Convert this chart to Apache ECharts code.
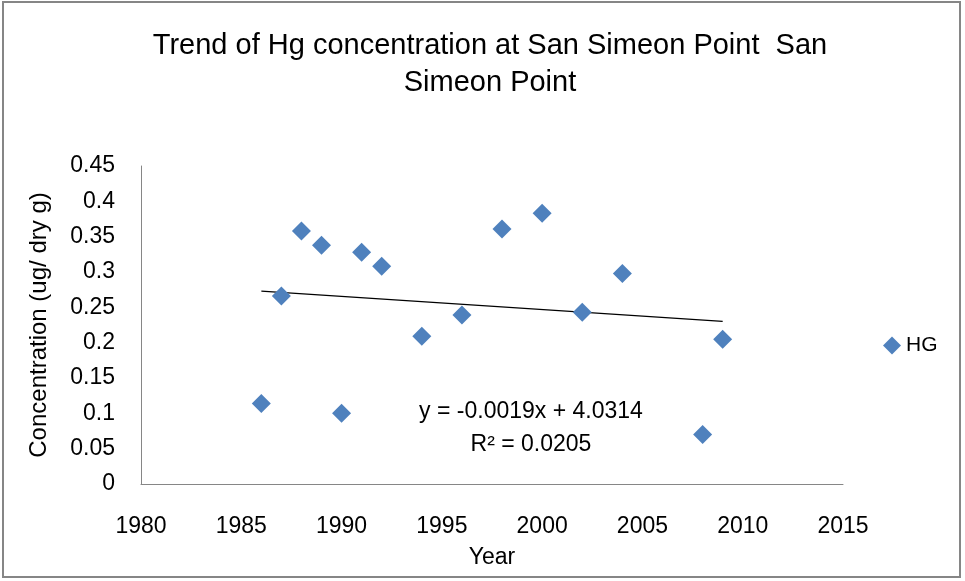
<!DOCTYPE html>
<html>
<head>
<meta charset="utf-8">
<script src="https://cdn.jsdelivr.net/npm/echarts@6/dist/echarts.min.js"></script>
<style>
  html, body { margin: 0; padding: 0; background: #fff; }
  #chart { width: 965px; height: 581px; }
</style>
</head>
<body>
<div id="chart"></div>
<script>
// data
const years = [1986, 1987, 1988, 1989, 1990, 1991, 1992, 1994, 1996, 1998, 2000, 2002, 2004, 2008, 2009];
const hgValues = [0.114, 0.266, 0.358, 0.338, 0.100, 0.328, 0.308, 0.209, 0.239, 0.361, 0.383, 0.243, 0.298, 0.070, 0.205];
const trendYears = [1986, 2009];
const trendValues = [0.273, 0.230];
const yTicks = ['0', '0.05', '0.1', '0.15', '0.2', '0.25', '0.3', '0.35', '0.4', '0.45'];

const FONT = '"Liberation Sans", sans-serif';

const chart = echarts.init(document.getElementById('chart'), null, { renderer: 'canvas' });

const option = {
  backgroundColor: '#fff',
  animation: false,
  textStyle: { fontFamily: FONT, color: '#000' },
  legend: {
    left: 878,
    top: 330,
    itemWidth: 18,
    itemHeight: 18,
    itemGap: 6,
    data: [{ name: 'HG', icon: 'diamond' }],
    textStyle: { fontFamily: FONT, fontSize: 21, color: '#000' }
  },
  grid: { left: 141, right: 122, top: 166, bottom: 97 },
  xAxis: {
    type: 'value',
    min: 1980,
    max: 2015,
    interval: 5,
    name: 'Year',
    nameLocation: 'middle',
    nameGap: 62,
    nameTextStyle: { fontFamily: FONT, fontSize: 23, color: '#000' },
    axisLine: { lineStyle: { color: '#868686', width: 1 } },
    axisTick: { show: false },
    splitLine: { show: false },
    axisLabel: {
      fontFamily: FONT, fontSize: 23, color: '#000', margin: 31,
      formatter: function (v) { return String(v); }
    }
  },
  yAxis: {
    type: 'value',
    min: 0,
    max: 0.45,
    interval: 0.05,
    name: 'Concentration (ug/ dry g)',
    nameLocation: 'middle',
    nameGap: 90,
    nameTextStyle: { fontFamily: FONT, fontSize: 24, color: '#000' },
    axisLine: { show: true, lineStyle: { color: '#868686', width: 1 } },
    axisTick: { show: false },
    splitLine: { show: false },
    axisLabel: {
      fontFamily: FONT, fontSize: 23, color: '#000', margin: 26,
      formatter: function (v) {
        const i = Math.round(v / 0.05);
        return yTicks[i] !== undefined ? yTicks[i] : '';
      }
    }
  },
  graphic: [
    {
      type: 'text',
      x: 490, y: 27,
      style: {
        text: 'Trend of Hg concentration at San Simeon Point  San\nSimeon Point',
        font: '29px ' + FONT, lineHeight: 37, fill: '#000', align: 'center'
      }
    },
    {
      type: 'text',
      x: 531, y: 400,
      style: { text: 'y = -0.0019x + 4.0314', font: '23px ' + FONT, fill: '#000', align: 'center' }
    },
    {
      type: 'text',
      x: 531, y: 433,
      style: { text: 'R² = 0.0205', font: '23px ' + FONT, fill: '#000', align: 'center' }
    },
    {
      // outer chart border
      type: 'rect',
      shape: { x: 3, y: 2, width: 957, height: 575 },
      style: { fill: 'none', stroke: '#868686', lineWidth: 2 },
      silent: true,
      z: -1
    }
  ],
  series: [
    {
      name: 'trend',
      type: 'line',
      data: trendYears.map((x, i) => [x, trendValues[i]]),
      showSymbol: false,
      silent: true,
      lineStyle: { color: '#000', width: 1.3 },
      z: 1
    },
    {
      name: 'HG',
      type: 'scatter',
      data: years.map((x, i) => [x, hgValues[i]]),
      symbol: 'diamond',
      symbolSize: [19, 19],
      itemStyle: { color: '#4F81BD', opacity: 1 },
      z: 2
    }
  ]
};

chart.setOption(option);
</script>
</body>
</html>
